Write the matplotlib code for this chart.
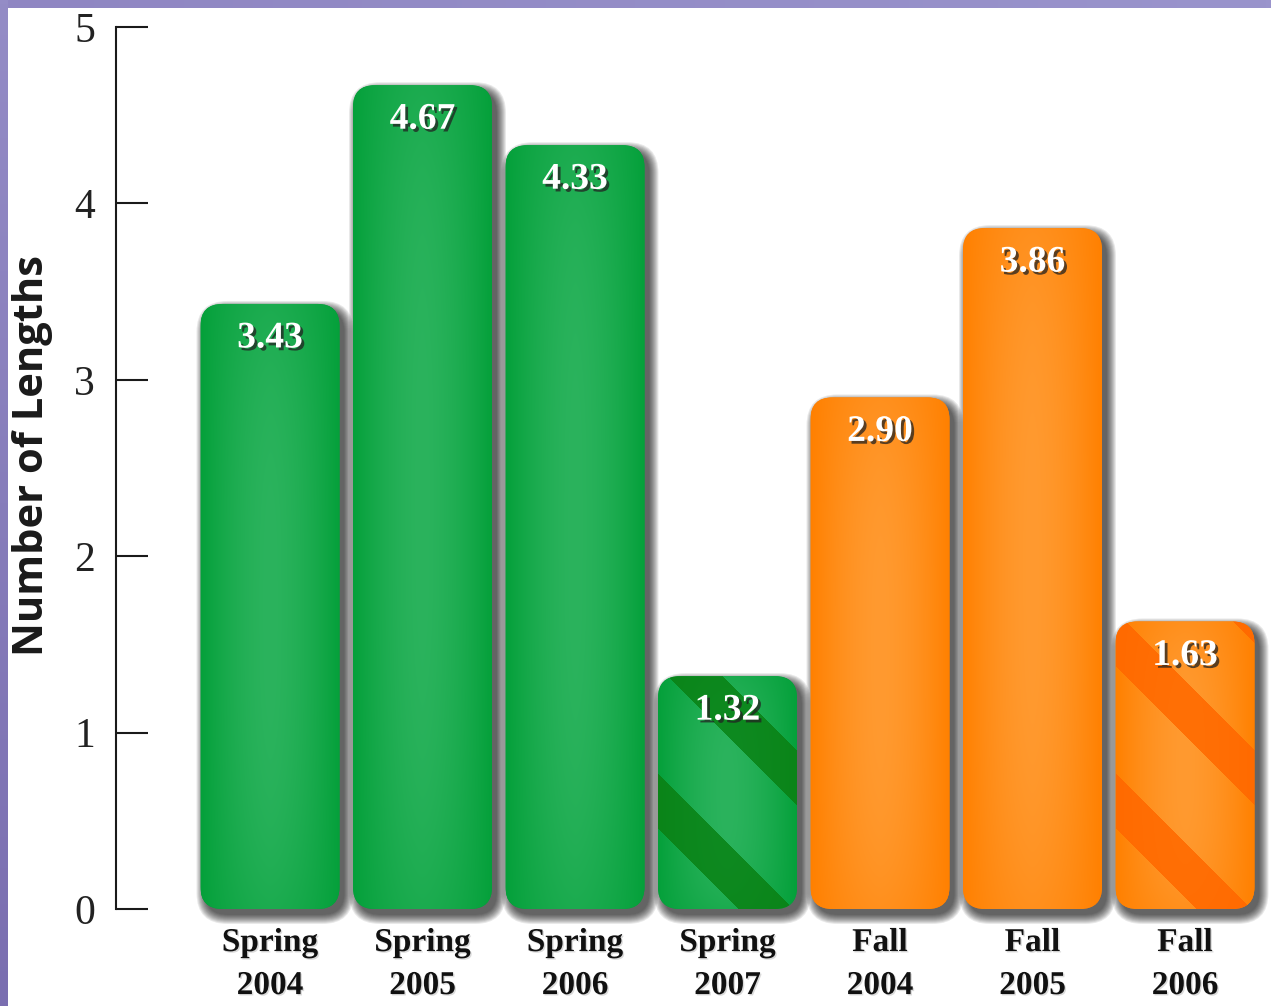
import numpy as np
import matplotlib
matplotlib.use("Agg")
import matplotlib.pyplot as plt
from matplotlib.patches import FancyBboxPatch
from matplotlib.colors import to_rgb
import matplotlib.transforms as mtransforms
import matplotlib.patheffects as pe

# ---------------- data ----------------
categories = ["Spring\n2004", "Spring\n2005", "Spring\n2006", "Spring\n2007",
              "Fall\n2004", "Fall\n2005", "Fall\n2006"]
values = [3.43, 4.67, 4.33, 1.32, 2.90, 3.86, 1.63]
value_labels = ["3.43", "4.67", "4.33", "1.32", "2.90", "3.86", "1.63"]
season = ["Spring", "Spring", "Spring", "Spring", "Fall", "Fall", "Fall"]
striped = [False, False, False, True, False, False, True]
yticks = [0, 1, 2, 3, 4, 5]
ylabel = "Number of Lengths"

# ---------------- style ----------------
W, H = 1271, 1006
DPI = 100
palette = {
    "Spring": dict(edge="#04A03A", center="#2BB35D", stripe="#0A8418"),
    "Fall": dict(edge="#FF8000", center="#FF9A30", stripe="#FF6A00"),
}
stripe_offset_px = {3: 10, 6: -45}
stripe_period_px = 162
stripe_width_px = 55

fig = plt.figure(figsize=(W / DPI, H / DPI), dpi=DPI)
fig.patch.set_facecolor("white")

# purple frame strips
top_ax = fig.add_axes([0, 1 - 8 / H, 1, 8 / H])
grad = np.linspace(0, 1, 256)[None, :, None]
c1, c2 = np.array(to_rgb("#8F86C2")), np.array(to_rgb("#9A94CC"))
top_ax.imshow(c1 * (1 - grad) + c2 * grad, aspect="auto")
top_ax.axis("off")
left_ax = fig.add_axes([0, 0, 8 / W, 1])
gradv = np.linspace(0, 1, 256)[:, None, None]
c3, c4 = np.array(to_rgb("#948CC6")), np.array(to_rgb("#7A6EB0"))
left_ax.imshow(c3 * (1 - gradv) + c4 * gradv, aspect="auto")
left_ax.axis("off")

# main axes: spine at x=116px, y=0 at 909px, y=5 at 27px
ax = fig.add_axes([116 / W, (H - 909) / H, (W - 116) / W, (909 - 27) / H])
ax.set_facecolor("none")
x = np.arange(len(values))
px_per_x = 152.5
px_per_y = (909 - 27) / 5.0
ax.set_xlim((116 - 270) / px_per_x, (W - 270) / px_per_x)
ax.set_ylim(0, 5)

bar_w = 139 / px_per_x
r_px = 22
rx = r_px / px_per_x
aspect = px_per_x / px_per_y

for sp in ["top", "right", "bottom"]:
    ax.spines[sp].set_visible(False)
ax.spines["left"].set_color("#1a1a1a")
ax.spines["left"].set_linewidth(1.5)

ax.set_yticks(yticks)
ax.set_yticklabels([str(t) for t in yticks])
ax.tick_params(axis="y", direction="in", length=23, width=1.5, color="#1a1a1a",
               pad=15, labelsize=30, labelcolor="#222222")
for lab in ax.get_yticklabels():
    lab.set_fontfamily("Liberation Serif")

ax.set_xticks(x)
ax.set_xticklabels(categories, fontfamily="Liberation Serif", fontweight="bold",
                   fontsize=24, linespacing=1.5, color="#111111")
ax.tick_params(axis="x", length=0, pad=13)
for lab in ax.get_xticklabels():
    lab.set_path_effects([pe.withSimplePatchShadow(offset=(1, -1), shadow_rgbFace="#999999", alpha=0.35)])

def px_offset(dx, dy):
    return ax.transData + mtransforms.ScaledTranslation(dx / DPI, -dy / DPI, fig.dpi_scale_trans)

for i, v in enumerate(values):
    x0 = x[i] - bar_w / 2
    # soft shadow
    n = 10
    for k in range(n):
        s = k * 1.0
        sh = FancyBboxPatch((x0, 0), bar_w, v,
                            boxstyle=f"round,pad={s / px_per_x},rounding_size={rx + s / px_per_x}",
                            mutation_aspect=aspect, facecolor="black", edgecolor="none",
                            alpha=0.085, transform=px_offset(5, 6), zorder=2, clip_on=False)
        ax.add_patch(sh)
    # bar body
    col = palette[season[i]]
    patch = FancyBboxPatch((x0, 0), bar_w, v,
                           boxstyle=f"round,pad=0,rounding_size={rx}",
                           mutation_aspect=aspect, facecolor=col["edge"], edgecolor="none",
                           zorder=3, clip_on=False)
    ax.add_patch(patch)
    # gradient / stripe fill
    nx = 139
    ny = max(int(round(v * px_per_y)), 2)
    u = np.arange(nx)[None, :] + 0.5
    t = np.arange(ny)[:, None] + 0.5
    fx = 1 - np.abs(2 * u / nx - 1) ** 1.6
    fy = 1 - np.abs(2 * t / ny - 1) ** 3 * 0.4
    f = np.clip(fx * fy, 0, 1)[..., None]
    ce, cc = np.array(to_rgb(col["edge"])), np.array(to_rgb(col["center"]))
    img = ce * (1 - f) + cc * f
    if striped[i]:
        r = u - t
        mask = np.mod(r - stripe_offset_px[i], stripe_period_px) < stripe_width_px
        cs = np.array(to_rgb(col["stripe"]))
        img = np.where(mask[..., None], cs * (1 - 0.12 * f) + cc * 0.12 * f, img)
    im = ax.imshow(img, extent=(x0, x0 + bar_w, 0, v), aspect="auto",
                   interpolation="bilinear", zorder=4)
    im.set_clip_path(patch)
    # value label
    ax.annotate(value_labels[i], xy=(x[i], v), xytext=(0, -34 * 72 / DPI),
                textcoords="offset points", ha="center", va="center",
                fontfamily="Liberation Serif", fontweight="bold", fontsize=27,
                color="white", zorder=6,
                path_effects=[pe.withSimplePatchShadow(offset=(2, -2), shadow_rgbFace="#222222", alpha=0.75)])

fig.text(33 / W, 1 - 456 / H, ylabel, rotation=90, ha="center", va="center",
         fontfamily="Open Sans", fontweight="bold", fontsize=30, color="#1a1a1a")

fig.savefig("out.png", dpi=DPI)
